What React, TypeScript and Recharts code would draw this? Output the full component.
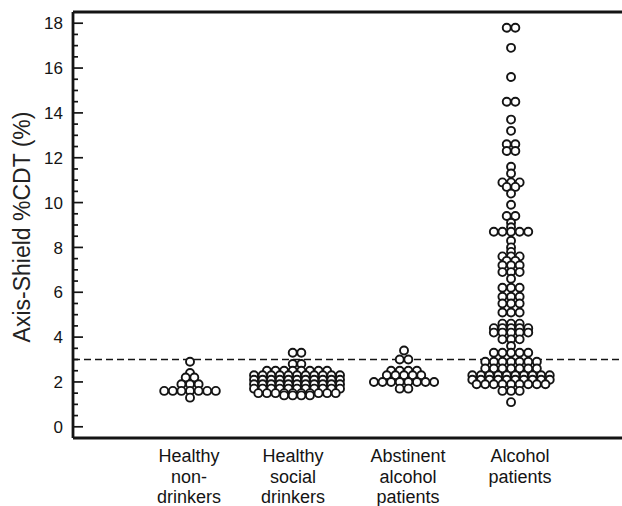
import React from "react";
import { ScatterChart, Scatter, XAxis, YAxis, ReferenceLine, Label } from "recharts";

// Group labels, one line per entry
const CATEGORIES = [
  ["Healthy", "non-", "drinkers"],
  ["Healthy", "social", "drinkers"],
  ["Abstinent", "alcohol", "patients"],
  ["Alcohol", "patients"],
];

// %CDT per subject, one array per group
const NON_DRINKERS = [2.9, 2.4, 2.2, 2.2, 1.9, 1.9, 1.9, 1.6, 1.6, 1.6, 1.6, 1.6, 1.6, 1.6, 1.3];

const SOCIAL_DRINKERS = [
  3.3, 3.3,
  2.8, 2.8,
  2.5, 2.5, 2.5, 2.5, 2.5, 2.5, 2.5, 2.5,
  2.3, 2.3, 2.3, 2.3, 2.3, 2.3, 2.3, 2.3, 2.3, 2.3, 2.3,
  2.1, 2.1, 2.1, 2.1, 2.1, 2.1, 2.1, 2.1, 2.1, 2.1, 2.1,
  1.9, 1.9, 1.9, 1.9, 1.9, 1.9, 1.9, 1.9, 1.9, 1.9, 1.9,
  1.7, 1.7, 1.7, 1.7, 1.7, 1.7, 1.7, 1.7, 1.7, 1.7, 1.7,
  1.5, 1.5, 1.5, 1.5, 1.5, 1.5, 1.5, 1.5, 1.5, 1.5,
  1.4, 1.4, 1.4, 1.4,
];

const ABSTINENT = [
  3.4,
  3.0, 3.0,
  2.5, 2.5, 2.5, 2.5,
  2.3, 2.3, 2.3, 2.3, 2.3,
  2.0, 2.0, 2.0, 2.0, 2.0, 2.0, 2.0, 2.0,
  1.7, 1.7,
];

const ALCOHOL_PATIENTS = [
  17.8, 17.8,
  16.9,
  15.6,
  14.5, 14.5,
  13.7,
  13.2,
  12.6, 12.6,
  12.3, 12.3,
  11.6,
  11.3,
  10.9, 10.9, 10.9,
  10.7, 10.7,
  10.4,
  9.9,
  9.4, 9.4,
  9.1,
  8.9,
  8.7, 8.7, 8.7, 8.7, 8.7,
  8.3,
  8.0,
  7.8,
  7.6, 7.6, 7.6,
  7.4, 7.4,
  7.2, 7.2, 7.2,
  6.9, 6.9, 6.9,
  6.6,
  6.2, 6.2, 6.2,
  5.8, 5.8, 5.8,
  5.5, 5.5, 5.5,
  5.1, 5.1, 5.1,
  4.6, 4.6, 4.6,
  4.4, 4.4, 4.4, 4.4, 4.4,
  4.2, 4.2, 4.2, 4.2, 4.2,
  3.9, 3.9, 3.9,
  3.6,
  3.3, 3.3, 3.3, 3.3, 3.3,
  2.9, 2.9, 2.9, 2.9, 2.9, 2.9, 2.9,
  2.6, 2.6, 2.6, 2.6, 2.6, 2.6, 2.6,
  2.3, 2.3, 2.3, 2.3, 2.3, 2.3, 2.3, 2.3, 2.3, 2.3,
  2.1, 2.1, 2.1, 2.1, 2.1, 2.1, 2.1, 2.1, 2.1, 2.1,
  1.9, 1.9, 1.9, 1.9, 1.9, 1.9, 1.9, 1.9, 1.9,
  1.6, 1.6, 1.6,
  1.1,
];

const GROUPS = [NON_DRINKERS, SOCIAL_DRINKERS, ABSTINENT, ALCOHOL_PATIENTS];

const CUTOFF = 3.0;
const Y_LABELS = [0, 2, 4, 6, 8, 10, 12, 14, 16, 18];
const Y_MINOR_STEP = 0.5;
const Y_TITLE = "Axis-Shield %CDT (%)";

const WIDTH = 622;
const HEIGHT = 506;
const AXIS_W = 73;
const AXIS_H = 68;
const TOP = 12;
const X_MIN = -0.0935;
const X_MAX = 5.037;
const Y_MIN = -0.5;
const Y_MAX = 18.5;

const FONT = "'Liberation Sans', Arial, Helvetica, sans-serif";
const INK = "#141414";
const FRAME_W = 2.8;
const DOT_R = 4;
const DOT_GAP = 8.6; // px between neighbours in a row
const LABEL_NUDGE = [-1, -4, 4, 9];

const unitsPerPx = (X_MAX - X_MIN) / (WIDTH - AXIS_W);

// equal values sit side by side in a row centred on the group
function dotRows(values: number[], group: number) {
  const rows = new Map<number, number>();
  values.forEach((v) => rows.set(v, (rows.get(v) || 0) + 1));
  const pts: { x: number; y: number }[] = [];
  rows.forEach((count, v) => {
    for (let i = 0; i < count; i++) {
      pts.push({ x: group + (i - (count - 1) / 2) * DOT_GAP * unitsPerPx, y: v });
    }
  });
  return pts;
}

const yTicks: number[] = [];
for (let v = 0; v <= Y_LABELS[Y_LABELS.length - 1]; v += Y_MINOR_STEP) yTicks.push(v);

function YTick(props: any) {
  const { x, y, payload } = props;
  const major = Y_LABELS.includes(payload.value);
  return (
    <g>
      <line x1={x} x2={x + (major ? 10 : 5)} y1={y} y2={y} stroke={INK} strokeWidth={1.7} />
      {major && (
        <text x={x - 10} y={y} dy="0.36em" textAnchor="end" fontSize={17} fontFamily={FONT} fill={INK}>
          {payload.value}
        </text>
      )}
    </g>
  );
}

function XTick(props: any) {
  const { x, y, payload } = props;
  const idx = payload.value - 1;
  const lines = CATEGORIES[idx] || [];
  const cx = x + (LABEL_NUDGE[idx] || 0);
  return (
    <text x={cx} y={y} textAnchor="middle" fontSize={18} fontFamily={FONT} fill={INK}>
      {lines.map((t, i) => (
        <tspan key={i} x={cx} y={y + 24 + i * 20.5}>
          {t}
        </tspan>
      ))}
    </text>
  );
}

function Dot(props: any) {
  const { cx, cy } = props;
  return <circle cx={cx} cy={cy} r={DOT_R} fill="#fff" stroke={INK} strokeWidth={1.9} />;
}

export default function App() {
  const series = GROUPS.map((vals, i) => dotRows(vals, i + 1));

  return (
    <div style={{ position: "absolute", left: 0, top: 0, background: "#fff" }}>
      <ScatterChart width={WIDTH} height={HEIGHT} margin={{ top: TOP, right: 0, bottom: 0, left: 0 }}>
        <XAxis
          xAxisId="main"
          type="number"
          dataKey="x"
          domain={[X_MIN, X_MAX]}
          allowDataOverflow
          ticks={[1, 2, 3, 4]}
          interval={0}
          height={AXIS_H}
          tickSize={0}
          tickMargin={0}
          tickLine={false}
          axisLine={{ stroke: INK, strokeWidth: FRAME_W }}
          tick={<XTick />}
        />
        <YAxis
          type="number"
          dataKey="y"
          domain={[Y_MIN, Y_MAX]}
          allowDataOverflow
          ticks={yTicks}
          interval={0}
          width={AXIS_W}
          tickSize={0}
          tickMargin={0}
          tickLine={false}
          axisLine={{ stroke: INK, strokeWidth: FRAME_W }}
          tick={<YTick />}
        >
          <Label
            content={(p: any) => {
              const vb = p.viewBox || {};
              const cx = vb.x + 22;
              const cy = vb.y + vb.height / 2 + 2;
              return (
                <text
                  x={cx}
                  y={cy}
                  transform={`rotate(-90 ${cx} ${cy})`}
                  textAnchor="middle"
                  dominantBaseline="central"
                  fontSize={23}
                  fontFamily={FONT}
                  fill="#222"
                >
                  {Y_TITLE}
                </text>
              );
            }}
          />
        </YAxis>
        {/* frame top edge */}
        <ReferenceLine xAxisId="main" y={Y_MAX} stroke={INK} strokeWidth={FRAME_W} />
        <ReferenceLine
          xAxisId="main"
          y={CUTOFF}
          stroke={INK}
          strokeWidth={1.6}
          strokeDasharray="7 4"
        />
        {series.map((pts, i) => (
          <Scatter key={i} xAxisId="main" data={pts} shape={<Dot />} isAnimationActive={false} />
        ))}
      </ScatterChart>
    </div>
  );
}
